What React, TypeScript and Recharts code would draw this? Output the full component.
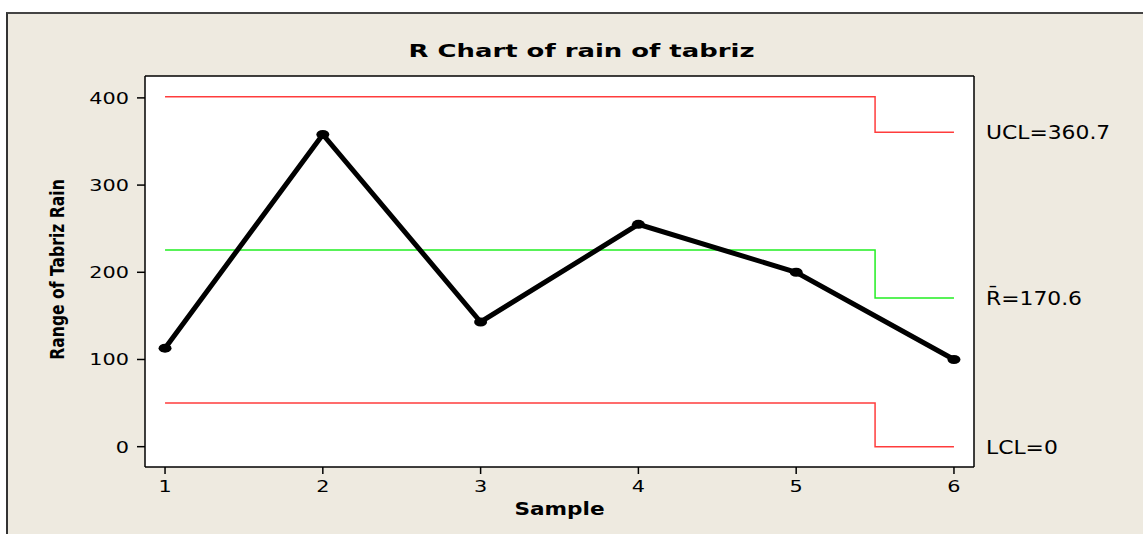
import { ComposedChart, Line, XAxis, YAxis, CartesianGrid, Label } from 'recharts';

const samples = [1, 2, 3, 4, 5, 6];
const ranges = [113, 358, 143, 255, 200, 100];

// stage limits: first stage from sample 1 to 5.5, second stage to 6
const limitX = [1, 5.5, 6];
const uclValues = [401.2, 360.7, 360.7];
const centerValues = [225.6, 170.6, 170.6];
const lclValues = [50, 0, 0];

const yTicks = [0, 100, 200, 300, 400];
const limitTicks = [0, 170.6, 360.7];
const limitNames = ['LCL', 'R\u0304', 'UCL'];

const W = 1143;
const H = 534;
const FONT = "'DejaVu Sans', Verdana, sans-serif";

const rangeData = samples.map((s, i) => ({ x: s, y: ranges[i] }));
const uclData = limitX.map((x, i) => ({ x, y: uclValues[i] }));
const clData = limitX.map((x, i) => ({ x, y: centerValues[i] }));
const lclData = limitX.map((x, i) => ({ x, y: lclValues[i] }));

function Stretch({ x, y, sx, size, anchor, bold, rotate, children }: any) {
  const rot = rotate ? ` rotate(${rotate})` : '';
  return (
    <text
      transform={`translate(${x},${y})${rot} scale(${sx},1)`}
      x={0}
      y={0}
      textAnchor={anchor}
      fontSize={size}
      fontWeight={bold ? 'bold' : 'normal'}
      fontFamily={FONT}
      fill="#000"
    >
      {children}
    </text>
  );
}

const LeftTick = (p: any) => (
  <Stretch x={p.x} y={p.y + 6} sx={1.3} size={16} anchor="end">
    {p.payload.value}
  </Stretch>
);

const BottomTick = (p: any) => (
  <Stretch x={p.x} y={p.y + 12} sx={1.3} size={16} anchor="middle">
    {p.payload.value}
  </Stretch>
);

const RightTick = (p: any) => {
  const idx = limitTicks.indexOf(p.payload.value);
  return (
    <Stretch x={p.x} y={p.y + 7} sx={1.15} size={19} anchor="start">
      {`${limitNames[idx]}=${p.payload.value}`}
    </Stretch>
  );
};

const Dot = (p: any) => <ellipse key={p.index} cx={p.cx} cy={p.cy} rx={6.5} ry={4.5} fill="#000" />;

export default function App() {
  return (
    <div style={{ position: 'absolute', left: 0, top: 0, width: W, height: H, background: '#fff', overflow: 'hidden' }}>
      <div
        style={{
          position: 'absolute',
          left: 6,
          top: 12,
          right: 0,
          bottom: 0,
          background: '#eeeae0',
          borderLeft: '2px solid #333',
          borderTop: '2px solid #444',
        }}
      />
      <div style={{ position: 'absolute', left: 0, top: 0 }}>
        <ComposedChart width={W} height={H} margin={{ top: 75, right: 0, bottom: 0, left: 0 }}>
          <CartesianGrid fill="#fff" horizontal={false} vertical={false} />
          <XAxis
            xAxisId="b"
            type="number"
            dataKey="x"
            domain={[0.873, 6.127]}
            ticks={samples}
            allowDataOverflow
            height={67}
            stroke="#000"
            strokeWidth={1.5}
            tickSize={7}
            tickMargin={6}
            tick={BottomTick}
          >
            <Label
              content={({ viewBox }: any) => (
                <Stretch x={viewBox.x + viewBox.width / 2} y={viewBox.y + 48} sx={1.2} size={18} anchor="middle" bold>
                  Sample
                </Stretch>
              )}
            />
          </XAxis>
          <XAxis
            xAxisId="t"
            orientation="top"
            type="number"
            domain={[0.873, 6.127]}
            ticks={samples}
            allowDataOverflow
            height={1}
            tick={false}
            tickLine={false}
            stroke="#000"
            strokeWidth={1.5}
          >
            <Label
              content={({ viewBox }: any) => (
                <Stretch x={viewBox.x + viewBox.width / 2 + 22} y={viewBox.y - 18} sx={1.44} size={18} anchor="middle" bold>
                  R Chart of rain of tabriz
                </Stretch>
              )}
            />
          </XAxis>
          <YAxis
            yAxisId="l"
            type="number"
            domain={[-23.3, 425.1]}
            ticks={yTicks}
            allowDataOverflow
            width={145}
            stroke="#000"
            strokeWidth={1.5}
            tickSize={8}
            tickMargin={8}
            tick={LeftTick}
          >
            <Label
              content={({ viewBox }: any) => (
                <Stretch x={64} y={viewBox.y + viewBox.height / 2 - 2} sx={0.78} size={20} anchor="middle" bold rotate={-90}>
                  Range of Tabriz Rain
                </Stretch>
              )}
            />
          </YAxis>
          <YAxis
            yAxisId="r"
            orientation="right"
            type="number"
            domain={[-23.3, 425.1]}
            ticks={limitTicks}
            allowDataOverflow
            width={169}
            stroke="#000"
            strokeWidth={1.5}
            tickLine={false}
            tickSize={6}
            tickMargin={6}
            tick={RightTick}
          />
          <Line
            xAxisId="b"
            yAxisId="l"
            data={uclData}
            dataKey="y"
            type="stepAfter"
            stroke="#ff3c3c"
            strokeWidth={1.5}
            dot={false}
            isAnimationActive={false}
          />
          <Line
            xAxisId="b"
            yAxisId="l"
            data={clData}
            dataKey="y"
            type="stepAfter"
            stroke="#22ee22"
            strokeWidth={1.5}
            dot={false}
            isAnimationActive={false}
          />
          <Line
            xAxisId="b"
            yAxisId="l"
            data={lclData}
            dataKey="y"
            type="stepAfter"
            stroke="#ff3c3c"
            strokeWidth={1.5}
            dot={false}
            isAnimationActive={false}
          />
          <Line
            xAxisId="b"
            yAxisId="l"
            data={rangeData}
            dataKey="y"
            type="linear"
            stroke="#000"
            strokeWidth={5}
            dot={Dot}
            isAnimationActive={false}
          />
        </ComposedChart>
      </div>
    </div>
  );
}
